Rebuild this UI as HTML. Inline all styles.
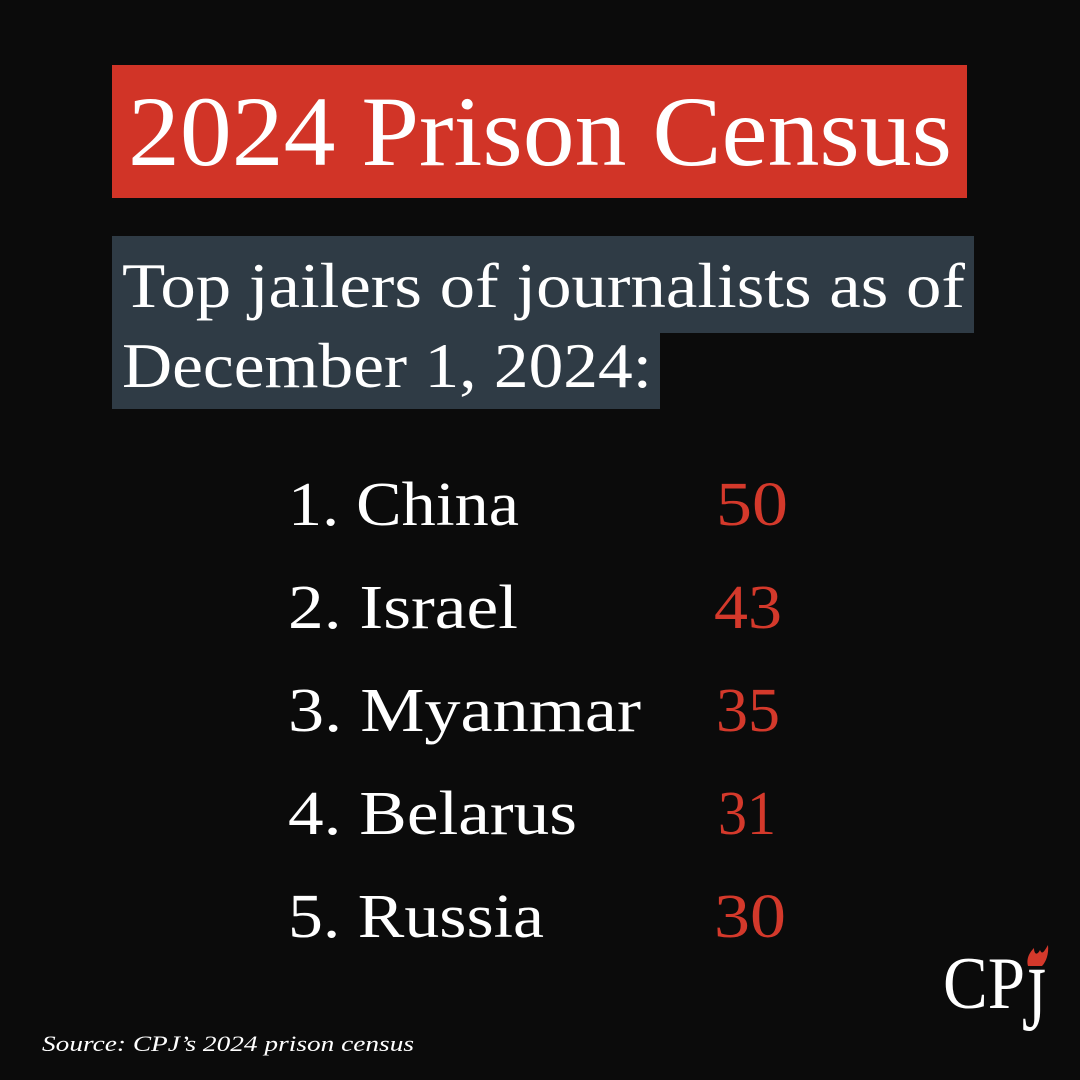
<!DOCTYPE html>
<html><head><meta charset="utf-8"><style>
html,body{margin:0;padding:0;background:#0b0b0b;}
svg{display:block;}
text{font-family:"Liberation Serif",serif;}
</style></head><body>
<svg width="1080" height="1080" viewBox="0 0 1080 1080" xmlns="http://www.w3.org/2000/svg">
<rect width="1080" height="1080" fill="#0b0b0b"/>
<rect x="112" y="65" width="855" height="133" fill="#d13427"/>
<text x="128" y="165" font-size="100" fill="#fff" textLength="824" lengthAdjust="spacingAndGlyphs">2024 Prison Census</text>
<rect x="112" y="236" width="862" height="97" fill="#2f3b45"/>
<rect x="112" y="332" width="548" height="77" fill="#2f3b45"/>
<text x="122" y="307" font-size="64" fill="#fff" textLength="843" lengthAdjust="spacingAndGlyphs">Top jailers of journalists as of</text>
<text x="122" y="387" font-size="64" fill="#fff" textLength="530" lengthAdjust="spacingAndGlyphs">December 1, 2024:</text>
<g font-size="62" fill="#fff">
<text x="288" y="525" textLength="231" lengthAdjust="spacingAndGlyphs">1. China</text>
<text x="288" y="628" textLength="230" lengthAdjust="spacingAndGlyphs">2. Israel</text>
<text x="288" y="731" textLength="353" lengthAdjust="spacingAndGlyphs">3. Myanmar</text>
<text x="288" y="834" textLength="289" lengthAdjust="spacingAndGlyphs">4. Belarus</text>
<text x="288" y="937" textLength="256" lengthAdjust="spacingAndGlyphs">5. Russia</text>
</g>
<g font-size="62" fill="#d4392b">
<text x="716" y="525" textLength="72" lengthAdjust="spacingAndGlyphs">50</text>
<text x="714" y="628" textLength="68" lengthAdjust="spacingAndGlyphs">43</text>
<text x="716" y="731" textLength="64" lengthAdjust="spacingAndGlyphs">35</text>
<text x="718" y="834" textLength="58" lengthAdjust="spacingAndGlyphs">31</text>
<text x="714" y="937" textLength="72" lengthAdjust="spacingAndGlyphs">30</text>
</g>
<text x="42" y="1051" font-size="22" font-style="italic" fill="#fff" textLength="372" lengthAdjust="spacingAndGlyphs">Source: CPJ’s 2024 prison census</text>
<text x="943" y="1008" font-size="74" fill="#fff" textLength="82" lengthAdjust="spacingAndGlyphs">CP</text>
<text x="1022" y="1030" font-size="92" fill="#fff" textLength="24" lengthAdjust="spacingAndGlyphs">J</text>
<path d="M1028 966 C1026 958 1030 952 1034 948 C1034 954 1037 956 1040 950 C1042 955 1044 952 1048 945 C1049 954 1046 962 1042 966 Z" fill="#d4392b"/>
</svg>
</body></html>
